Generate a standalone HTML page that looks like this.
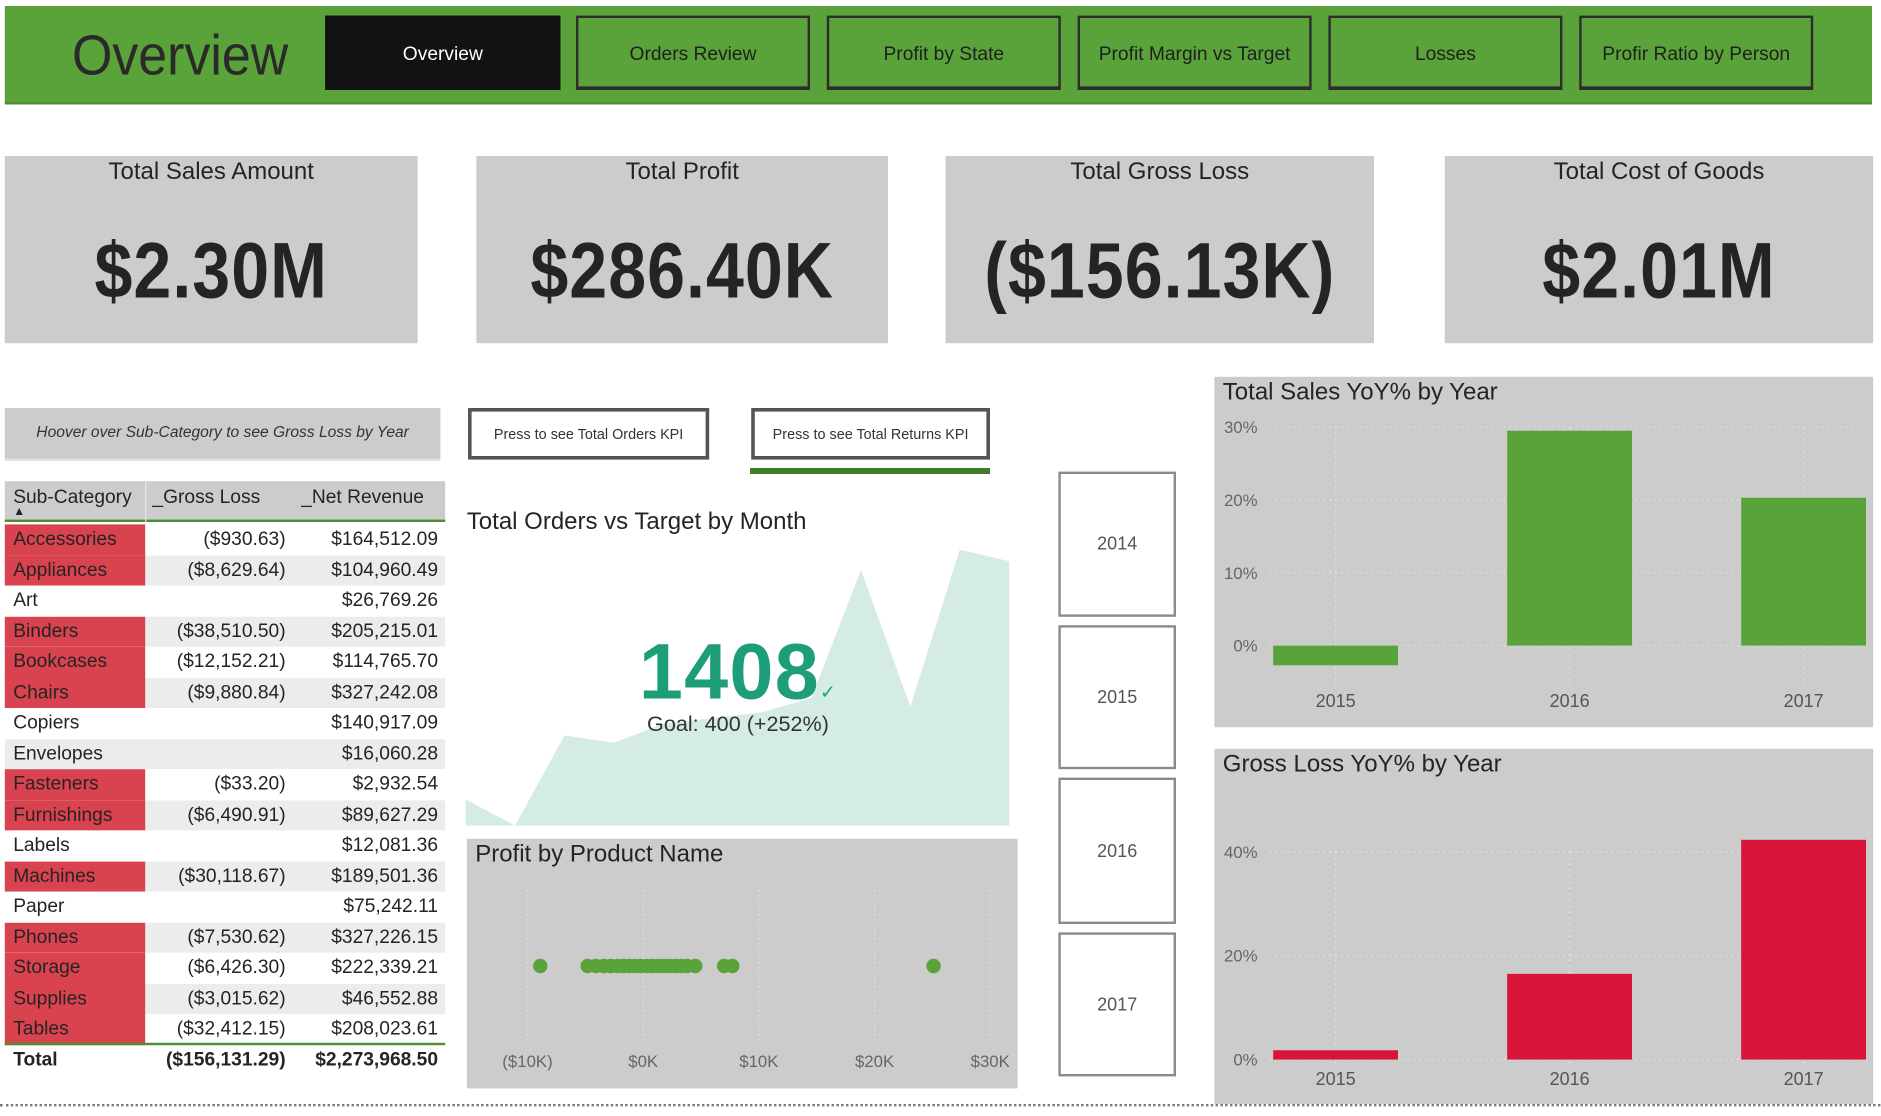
<!DOCTYPE html>
<html><head><meta charset="utf-8">
<style>
html,body{margin:0;padding:0;background:#fff;overflow:hidden;width:1881px;height:1116px}
#stage{position:absolute;left:0;top:0;width:1567.5px;height:930px;transform:scale(1.2);transform-origin:0 0;font-family:"Liberation Sans",sans-serif;color:#252423}
.abs{position:absolute;box-sizing:border-box}
.navbtn{position:absolute;top:13px;height:62px;width:195px;border:2px solid #2d2d2d;border-bottom-width:3px;background:#5aa23a;color:#1f1f1f;font-size:16px;display:flex;align-items:center;justify-content:center;box-sizing:border-box;padding-top:4px}
.card{position:absolute;top:130px;height:156px;background:#cccccc;text-align:center}
.card .ct{font-size:20px;margin-top:2px;color:#252423}
.card .cv{font-size:66px;margin-top:32px;color:#252423;font-weight:bold;transform:scaleX(0.86);letter-spacing:1px}
.row{position:absolute;left:4px;width:367px;height:25.5px;font-size:16px;line-height:25.5px}
.row .n{position:absolute;left:0;width:117px;height:100%;padding-left:7px;box-sizing:border-box}
.row .g{position:absolute;right:133px;}
.row .r{position:absolute;right:6px;}
.yr{position:absolute;left:882px;width:98px;border:2px solid #8a8a8a;background:#fff;color:#555;font-size:15px;display:flex;align-items:center;justify-content:center;box-sizing:border-box}
.ctitle{position:absolute;font-size:20px;color:#252423}
</style></head><body>
<div id="stage">
  <div class="abs" style="left:4px;top:5px;width:1556px;height:82px;background:#5aa23a;border-bottom:2px solid #4c8f30"></div>
  <div class="abs" style="left:60px;top:17px;font-size:47px;color:#2a2a2a;line-height:58px;transform:scaleX(0.92);transform-origin:0 0">Overview</div>
  <div class="navbtn" style="left:271px;width:196px;background:#121212;color:#fff;border-color:#121212">Overview</div>
  <div class="navbtn" style="left:480px">Orders Review</div>
  <div class="navbtn" style="left:689px">Profit by State</div>
  <div class="navbtn" style="left:898px">Profit Margin vs Target</div>
  <div class="navbtn" style="left:1107px">Losses</div>
  <div class="navbtn" style="left:1316px">Profir Ratio by Person</div>

  <div class="card" style="left:4px;width:344px"><div class="ct">Total Sales Amount</div><div class="cv">$2.30M</div></div>
  <div class="card" style="left:397px;width:343px"><div class="ct">Total Profit</div><div class="cv">$286.40K</div></div>
  <div class="card" style="left:788px;width:357px"><div class="ct">Total Gross Loss</div><div class="cv">($156.13K)</div></div>
  <div class="card" style="left:1204px;width:357px"><div class="ct">Total Cost of Goods</div><div class="cv">$2.01M</div></div>

  <div class="abs" style="left:4px;top:340px;width:363px;height:44px;background:#cccccc;font-size:13px;font-style:italic;line-height:40px;text-align:center;color:#333;border-bottom:2px solid #e0e0e0">Hoover over Sub-Category to see Gross Loss by Year</div>

  <div class="abs" style="left:4px;top:401px;width:367px;height:34px;background:#cccccc;border-bottom:2px solid #4c8f30;font-size:16px">
    <span style="position:absolute;left:7px;top:5px">Sub-Category</span>
    <span style="position:absolute;left:7px;top:20px;font-size:10px">▲</span>
    <span style="position:absolute;left:117px;top:0;width:1px;height:34px;background:#e8e8e8"></span>
    <span style="position:absolute;left:123px;top:5px">_Gross Loss</span>
    <span style="position:absolute;left:247px;top:5px">_Net Revenue</span>
  </div>
  <div id="rows"></div>
  <div class="abs" style="left:4px;top:869px;width:367px;height:27px;border-top:2px solid #4c8f30;font-size:16px;font-weight:bold;line-height:26px">
    <span style="position:absolute;left:7px">Total</span>
    <span style="position:absolute;right:133px">($156,131.29)</span>
    <span style="position:absolute;right:6px">$2,273,968.50</span>
  </div>

  <div class="abs" style="left:390px;top:340px;width:201px;height:43px;border:3px solid #555;background:#fff;font-size:12px;display:flex;align-items:center;justify-content:center;color:#333">Press to see Total Orders KPI</div>
  <div class="abs" style="left:626px;top:340px;width:199px;height:43px;border:3px solid #555;background:#fff;font-size:12px;display:flex;align-items:center;justify-content:center;color:#333">Press to see Total Returns KPI</div>
  <div class="abs" style="left:625px;top:390px;width:200px;height:5px;background:#3f7d2a"></div>

  <div class="ctitle" style="left:389px;top:424px">Total Orders vs Target by Month</div>
  <svg id="area" class="abs" style="left:0;top:0" width="1567" height="930"></svg>
  <div class="abs" style="left:530px;top:519px;width:170px;text-align:center;font-size:66px;color:#1d9e78;line-height:80px;font-weight:bold;letter-spacing:1px">1408<span style="font-size:16px;font-weight:normal">✓</span></div>
  <div class="abs" style="left:515px;top:593px;width:200px;text-align:center;font-size:18px;color:#333">Goal: 400 (+252%)</div>

  <div class="abs" style="left:389px;top:699px;width:459px;height:208px;background:#cccccc"></div>
  <div class="ctitle" style="left:396px;top:701px">Profit by Product Name</div>
  <svg id="scatter" class="abs" style="left:0;top:0" width="1567" height="930"></svg>

  <div class="yr" style="top:393px;height:121px">2014</div>
  <div class="yr" style="top:521px;height:120px">2015</div>
  <div class="yr" style="top:648px;height:122px">2016</div>
  <div class="yr" style="top:777px;height:120px">2017</div>

  <div class="abs" style="left:1012px;top:314px;width:549px;height:292px;background:#cccccc"></div>
  <div class="ctitle" style="left:1019px;top:316px">Total Sales YoY% by Year</div>
  <div class="abs" style="left:1012px;top:624px;width:549px;height:296px;background:#cccccc"></div>
  <div class="ctitle" style="left:1019px;top:626px">Gross Loss YoY% by Year</div>
  <svg id="bars" class="abs" style="left:0;top:0" width="1567" height="930"></svg>

  <div class="abs" style="left:0;top:920px;width:1567px;height:0;border-top:2px dotted #777"></div>
</div>
<script>
var NS="http://www.w3.org/2000/svg";
// table data
var subCats=["Accessories","Appliances","Art","Binders","Bookcases","Chairs","Copiers","Envelopes","Fasteners","Furnishings","Labels","Machines","Paper","Phones","Storage","Supplies","Tables"];
var grossLoss=["($930.63)","($8,629.64)","","($38,510.50)","($12,152.21)","($9,880.84)","","","($33.20)","($6,490.91)","","($30,118.67)","","($7,530.62)","($6,426.30)","($3,015.62)","($32,412.15)"];
var netRevenue=["$164,512.09","$104,960.49","$26,769.26","$205,215.01","$114,765.70","$327,242.08","$140,917.09","$16,060.28","$2,932.54","$89,627.29","$12,081.36","$189,501.36","$75,242.11","$327,226.15","$222,339.21","$46,552.88","$208,023.61"];
var rowsEl=document.getElementById('rows');
subCats.forEach(function(c,i){
  var r=document.createElement('div');
  r.className='row';
  r.style.top=(437+i*25.5)+'px';
  r.style.background=i%2?'#ececec':'#fff';
  
  
  var red=grossLoss[i]!=='';
  r.innerHTML='<span class="n" style="background:'+(red?'#d9434f':'transparent')+'">'+c+'</span><span class="g">'+grossLoss[i]+'</span><span class="r">'+netRevenue[i]+'</span>';
  rowsEl.appendChild(r);
});

// area chart
var months=["Jan","Feb","Mar","Apr","May","Jun","Jul","Aug","Sep","Oct","Nov","Dec"];
var orders=[18,0,62,57,70,74,78,88,176,82,190,182];
var ax=function(i){return 388+i*(841-388)/(months.length-1);};
var ay=function(v){return 688-v*(230/190);};
var area=document.getElementById('area');
var d='M'+ax(0)+','+ay(0);
orders.forEach(function(v,i){d+=' L'+ax(i)+','+ay(v);});
d+=' L'+ax(orders.length-1)+','+ay(0)+' Z';
var p=document.createElementNS(NS,'path');
p.setAttribute('d',d);p.setAttribute('fill','#d5ece5');


area.appendChild(p);

// scatter
var profitTicks=[-10,0,10,20,30];
var profitTickLabels=["($10K)","$0K","$10K","$20K","$30K"];
var profitValues=[-8.9,-4.8,-4.1,-3.4,-2.8,-2.2,-1.7,-1.2,-0.7,-0.2,0.3,0.8,1.3,1.8,2.3,2.8,3.3,3.8,4.5,7.0,7.7,25.1];
var sx=function(v){return 536+v*9.64;};
var sc=document.getElementById('scatter');
profitTicks.forEach(function(t,i){
  var l=document.createElementNS(NS,'line');
  l.setAttribute('x1',sx(t));l.setAttribute('x2',sx(t));l.setAttribute('y1',742);l.setAttribute('y2',868);
  l.setAttribute('stroke','#e6e6e6');l.setAttribute('stroke-dasharray','1,3');
  
  
  sc.appendChild(l);
  var tx=document.createElementNS(NS,'text');
  tx.setAttribute('x',sx(t));tx.setAttribute('y',889);tx.setAttribute('text-anchor','middle');
  tx.setAttribute('font-size','14');tx.setAttribute('fill','#666');tx.setAttribute('font-family','Liberation Sans, sans-serif');
  tx.textContent=profitTickLabels[i];
  
  
  sc.appendChild(tx);
});
profitValues.forEach(function(v){
  var c=document.createElementNS(NS,'circle');
  c.setAttribute('cx',sx(v));c.setAttribute('cy',805);c.setAttribute('r',6);c.setAttribute('fill','#5aa23a');
  
  
  sc.appendChild(c);
});

// bar charts
var years=["2015","2016","2017"];
var salesYoY=[-2.7,29.5,20.3];
var salesTicks=[0,10,20,30];
var lossYoY=[1.8,16.5,42.3];
var lossTicks=[0,20,40];
var bars=document.getElementById('bars');
function barChart(vals,ticks,zeroY,pxPerPct,color,labelY,name){
  var bx=function(i){return 1113+i*195;};
  var by=function(v){return zeroY-v*pxPerPct;};
  ticks.forEach(function(t){
    var l=document.createElementNS(NS,'line');
    l.setAttribute('x1',1058);l.setAttribute('x2',1555);l.setAttribute('y1',by(t));l.setAttribute('y2',by(t));
    l.setAttribute('stroke','#ececec');l.setAttribute('stroke-dasharray','1,4');
    
    
    bars.appendChild(l);
    var tx=document.createElementNS(NS,'text');
    tx.setAttribute('x',1048);tx.setAttribute('y',by(t)+5);tx.setAttribute('text-anchor','end');
    tx.setAttribute('font-size','14');tx.setAttribute('fill','#666');tx.setAttribute('font-family','Liberation Sans, sans-serif');
    tx.textContent=t+'%';
    
    
    bars.appendChild(tx);
  });
  vals.forEach(function(v,i){
    var vl=document.createElementNS(NS,'line');
    vl.setAttribute('x1',bx(i));vl.setAttribute('x2',bx(i));vl.setAttribute('y1',by(ticks[ticks.length-1]));vl.setAttribute('y2',labelY-14);
    vl.setAttribute('stroke','#ececec');vl.setAttribute('stroke-dasharray','1,4');
    
    
    bars.appendChild(vl);
    var r=document.createElementNS(NS,'rect');
    var y0=by(Math.max(v,0)),y1=by(Math.min(v,0));
    r.setAttribute('x',bx(i)-52);r.setAttribute('width',104);r.setAttribute('y',y0);r.setAttribute('height',Math.max(y1-y0,1));
    r.setAttribute('fill',color);
    
    
    bars.appendChild(r);
    var tx=document.createElementNS(NS,'text');
    tx.setAttribute('x',bx(i));tx.setAttribute('y',labelY);tx.setAttribute('text-anchor','middle');
    tx.setAttribute('font-size','15');tx.setAttribute('fill','#555');tx.setAttribute('font-family','Liberation Sans, sans-serif');
    tx.textContent=years[i];
    
    
    bars.appendChild(tx);
  });
}
barChart(salesYoY,salesTicks,538,6.07,'#5aa23a',589,'sales-yoy');
barChart(lossYoY,lossTicks,883,4.33,'#d7143a',904,'loss-yoy');
</script>
</body></html>
